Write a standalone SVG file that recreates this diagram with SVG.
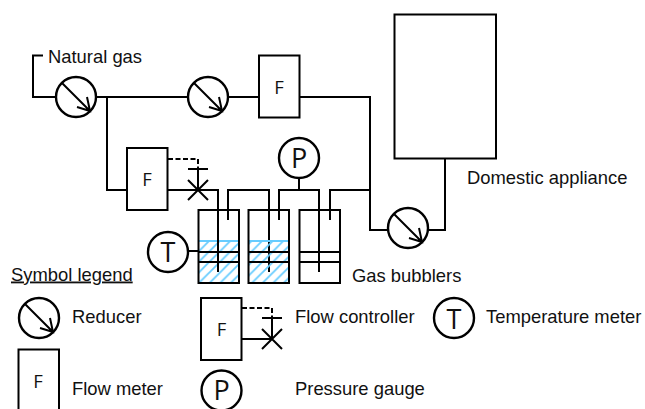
<svg xmlns="http://www.w3.org/2000/svg" xmlns:xlink="http://www.w3.org/1999/xlink" width="645" height="409" viewBox="0 0 645 409">
<style>
.l{fill:none;stroke:#000;stroke-width:2}
.d{fill:none;stroke:#000;stroke-width:2;stroke-dasharray:5 2.5}
.b{fill:#fff;stroke:#000;stroke-width:2}
.c{fill:#fff;stroke:#000;stroke-width:2.4}
.t{font-family:"Liberation Sans",Arial,sans-serif;font-size:18.4px;fill:#111}
.s{font-family:"Open Sans",sans-serif;font-size:18.500px;fill:#111;text-anchor:middle}
.m{font-family:"Open Sans",sans-serif;font-size:27px;fill:#111;text-anchor:middle}
</style>
<defs>
<pattern id="h" patternUnits="userSpaceOnUse" width="10.6" height="10.6" x="198.500" y="241"><path d="M-2 2L2-2M0 10.6L10.6 0M8.6 12.6L12.6 8.6" fill="none" stroke="#66ccff" stroke-width="1.8"/></pattern>
<g id="red"><circle r="20" class="c"/><path class="l" d="M-14-14L14 14M1 10L14 14L11 0"/></g>
<g id="val"><path class="l" d="M-10-10L10 10M-10 10L10-10M0 0V-21M-10-21H10"/></g>
</defs>
<g id="connectors">
<path class="l" d="M43 55.500H33V97H56M96 97H188M228 97H259M299 97H370V230H388M428 230H445V158"/>
<path class="l" d="M107 97V190H127M167 190H218V272M228 220V190H269V272M279 220V190H319V272M330 220V190H370"/>
<path class="l" d="M299 178V190M188 251H198"/>
<path class="d" d="M168 159H198V168"/>
</g>
<g id="appliance"><rect class="b" x="394.500" y="14.500" width="101.500" height="144"/></g>
<g id="reducer-1"><use xlink:href="#red" x="76" y="97"/></g>
<g id="reducer-2"><use xlink:href="#red" x="208" y="97"/></g>
<g id="reducer-3"><use xlink:href="#red" x="408" y="228"/></g>
<g id="flow-meter-1"><rect class="b" x="259" y="55.500" width="40.500" height="62"/><text class="s" x="279" y="94">F</text></g>
<g id="flow-meter-2"><rect class="b" x="127" y="148" width="40.500" height="62"/><text class="s" x="147" y="186">F</text></g>
<g id="valve"><use xlink:href="#val" x="198" y="190"/></g>
<g id="pressure"><circle class="c" cx="299" cy="158" r="20"/><text class="m" x="299" y="168">P</text></g>
<g id="temperature"><circle class="c" cx="168" cy="252" r="20"/><text class="m" x="168" y="262">T</text></g>
<g id="bubbler-1"><rect x="198.500" y="241" width="40" height="42" fill="url(#h)"/><path d="M198.500 241H238.500" stroke="#66ccff" stroke-width="1.800"/><path class="l" d="M198.500 252H238.500M198.500 262H238.500M218 210V272"/><rect class="l" x="198.500" y="210" width="40.500" height="73"/></g>
<g id="bubbler-2"><rect x="249" y="241" width="40" height="42" fill="url(#h)"/><path d="M249 241H289" stroke="#66ccff" stroke-width="1.800"/><path class="l" d="M249 252H289M249 262H289"/><rect class="l" x="248.500" y="210" width="40.500" height="73"/></g>
<g id="bubbler-3"><path class="l" d="M299 252H340M299 262H340"/><rect class="l" x="299.500" y="210" width="40.500" height="73"/></g>
<g id="labels">
<text class="t" x="48" y="63">Natural gas</text>
<text class="t" x="467" y="184">Domestic appliance</text>
<text class="t" x="352" y="281.500">Gas bubblers</text>
<text class="t" x="11" y="280.500" text-decoration="underline">Symbol legend</text>
<text class="t" x="72" y="322.500">Reducer</text>
<text class="t" x="72" y="395">Flow meter</text>
<text class="t" x="295" y="322.500">Flow controller</text>
<text class="t" x="295" y="395">Pressure gauge</text>
<text class="t" x="486" y="322.500">Temperature meter</text>
</g>
<g id="legend-reducer"><use xlink:href="#red" x="39" y="318"/></g>
<g id="legend-flow-meter"><rect class="b" x="18.500" y="349.500" width="40.500" height="62"/><text class="s" x="38" y="388">F</text></g>
<g id="legend-flow-controller"><rect class="b" x="201" y="298" width="40.500" height="62"/><text class="s" x="221.500" y="336">F</text><path class="l" d="M241.500 339H272"/><path class="d" d="M242 308H272V318"/><use xlink:href="#val" x="272" y="339"/></g>
<g id="legend-pressure"><circle class="c" cx="221.500" cy="390.500" r="20"/><text class="m" x="221.500" y="400">P</text></g>
<g id="legend-temperature"><circle class="c" cx="454" cy="318" r="20"/><text class="m" x="454" y="329">T</text></g>
</svg>
